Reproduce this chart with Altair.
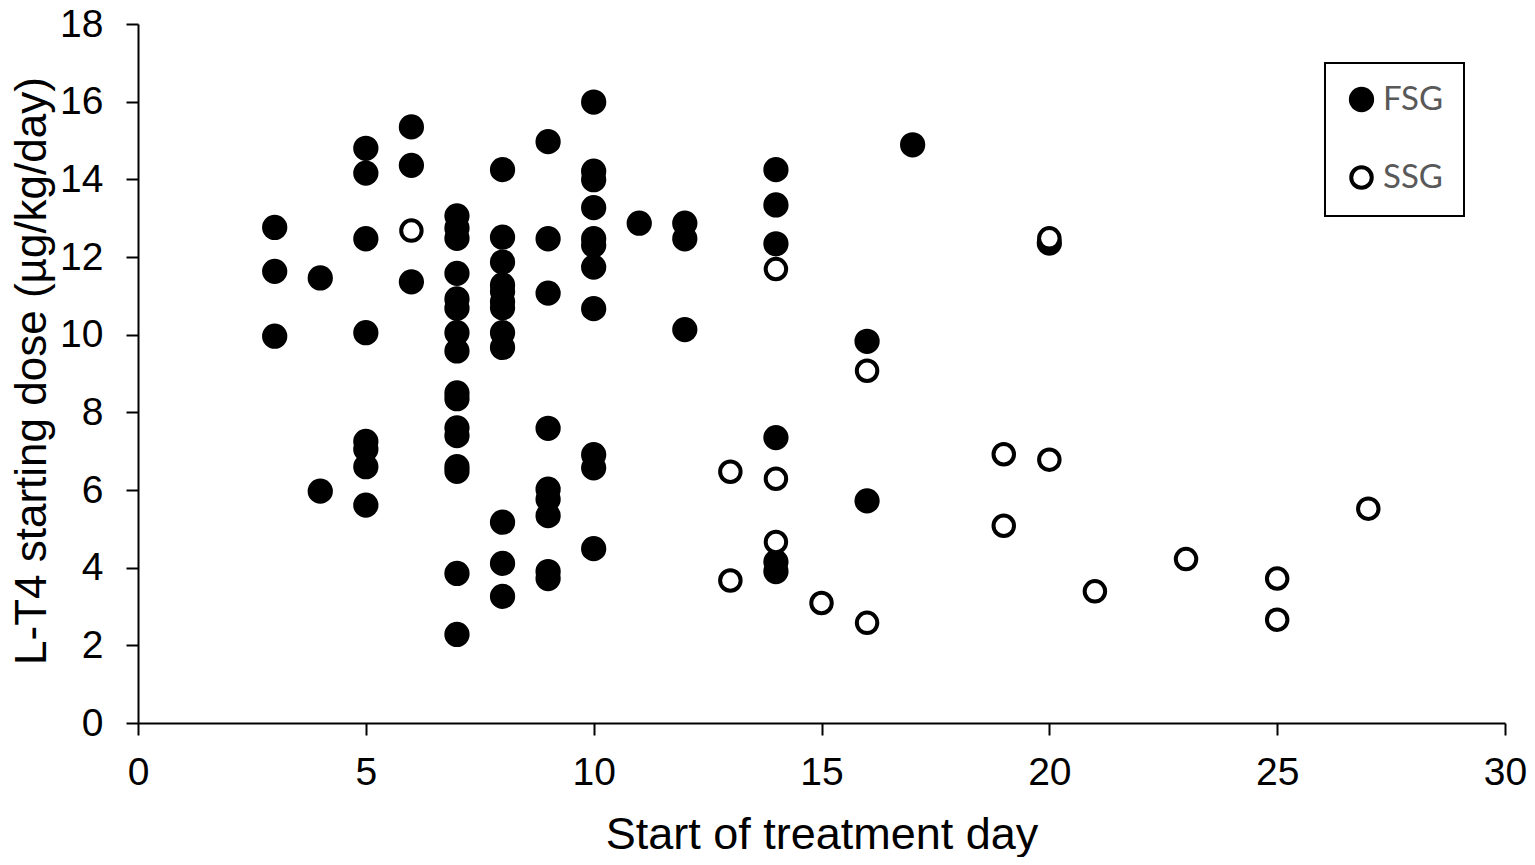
import altair as alt
import pandas as pd

# FSG (filled) points: day, dose
fsg_day = [3, 3, 3,
           4, 4,
           5, 5, 5, 5, 5, 5, 5, 5,
           6, 6, 6,
           7, 7, 7, 7, 7, 7, 7, 7, 7, 7, 7, 7, 7, 7, 7, 7,
           8, 8, 8, 8, 8, 8, 8, 8, 8, 8, 8, 8,
           9, 9, 9, 9, 9, 9, 9, 9, 9,
           10, 10, 10, 10, 10, 10, 10, 10, 10, 10, 10,
           11,
           12, 12, 12,
           14, 14, 14, 14, 14, 14,
           16, 16,
           17,
           20]
fsg_dose = [12.76, 11.63, 9.96,
            11.46, 5.97,
            14.80, 14.16, 12.47, 10.05, 7.25, 7.05, 6.60, 5.61,
            15.35, 14.36, 11.36,
            13.06, 12.75, 12.48, 11.58, 10.92, 10.68, 10.05, 9.58, 8.50, 8.35, 7.60, 7.40, 6.60, 6.48, 3.85, 2.28,
            14.25, 12.51, 11.87, 11.28, 11.11, 10.85, 10.69, 10.05, 9.67, 5.17, 4.11, 3.26,
            14.97, 12.47, 11.07, 7.59, 6.02, 5.76, 5.34, 3.90, 3.72,
            15.99, 14.21, 13.99, 13.27, 12.47, 12.30, 11.74, 10.67, 6.91, 6.57, 4.49,
            12.87,
            12.87, 12.47, 10.13,
            14.25, 13.34, 12.34, 7.35, 4.15, 3.90,
            9.83, 5.72,
            14.89,
            12.36]

# SSG (open) points
ssg_day = [6, 13, 13, 14, 14, 14, 15, 16, 16, 19, 19, 20, 20, 21, 23, 25, 25, 27]
ssg_dose = [12.68, 6.47, 3.67, 11.69, 6.29, 4.66, 3.09, 9.07, 2.58,
            6.92, 5.08, 12.48, 6.78, 3.39, 4.22, 3.72, 2.66, 5.52]

groups = ["FSG", "SSG"]

fsg = pd.DataFrame({"day": fsg_day, "dose": fsg_dose, "group": "FSG"})
ssg = pd.DataFrame({"day": ssg_day, "dose": ssg_dose, "group": "SSG"})

W, H = 1367, 699

x_enc = alt.X("day:Q",
              scale=alt.Scale(domain=[0, 30], nice=False, zero=True),
              axis=alt.Axis(values=[0, 5, 10, 15, 20, 25, 30], title="Start of treatment day",
                            labelPadding=18, labelFlush=False, labelOverlap=False,
                            titleY=125, titleBaseline="alphabetic"))
y_enc = alt.Y("dose:Q",
              scale=alt.Scale(domain=[0, 18], nice=False),
              axis=alt.Axis(values=[0, 2, 4, 6, 8, 10, 12, 14, 16, 18],
                            title="L-T4 starting dose (µg/kg/day)",
                            labelPadding=23, labelFlush=False, labelOverlap=False,
                            titleX=-93, titleY=H / 2 - 3, titleAngle=270,
                            titleFontSize=44,
                            titleBaseline="alphabetic", titleAlign="center"))

legend = alt.Legend(title=None, orient="none", legendX=1187, legendY=39,
                    strokeColor="black", fillColor="white", padding=20,
                    rowPadding=40, labelFont="Lato", labelFontSize=33,
                    labelColor="#595959", labelOffset=5, symbolType="circle",
                    symbolStrokeColor="black", symbolStrokeWidth=4)

fill_enc = alt.Fill("group:N",
                    scale=alt.Scale(domain=groups, range=["black", "white"]),
                    legend=legend)
stroke_enc = alt.Stroke("group:N",
                        scale=alt.Scale(domain=groups, range=["black", "black"]),
                        legend=legend)
size_enc = alt.Size("group:N",
                    scale=alt.Scale(domain=groups, range=[452, 420]),
                    legend=legend)

base_mark = dict(strokeWidth=4, opacity=1)

layer_fsg = alt.Chart(fsg).mark_circle(**base_mark).encode(
    x=x_enc, y=y_enc, fill=fill_enc, stroke=stroke_enc, size=size_enc)
layer_ssg = alt.Chart(ssg).mark_circle(**base_mark).encode(
    x=x_enc, y=y_enc, fill=fill_enc, stroke=stroke_enc, size=size_enc)

chart = alt.layer(layer_fsg, layer_ssg).properties(
    width=W, height=H,
    padding={"left": 130, "top": 16, "right": 22, "bottom": 134},
    autosize=alt.AutoSizeParams(type="none"),
    background="white",
).configure_view(strokeWidth=0).configure_axis(
    grid=False, domainColor="black", domainWidth=2, tickColor="black", tickWidth=2,
    tickSize=12, labelFont="Liberation Sans", labelFontSize=39, labelColor="black",
    titleFont="Liberation Sans", titleFontSize=45, titleFontWeight="normal", titleColor="black",
).configure_legend(strokeWidth=2)

chart.save("out.html", embed_options={"renderer": "svg", "actions": False})
